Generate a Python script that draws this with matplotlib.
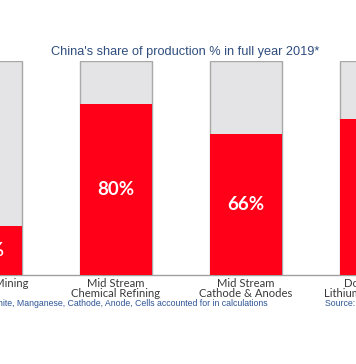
import matplotlib
matplotlib.use("Agg")
import matplotlib.pyplot as plt
import matplotlib.transforms as mtransforms

categories = ["Upstream Mining", "Mid Stream\nChemical Refining",
              "Mid Stream\nCathode & Anodes", "Downstream\nLithium Ion Batteries"]
china_share = [23, 80, 66, 73]
total = [100, 100, 100, 100]
value_labels = ["23%", "80%", "66%", "73%"]
title = "China's share of production % in full year 2019*"
footnote = "*Lithium, Cobalt, Nickel, Graphite, Manganese, Cathode, Anode, Cells accounted for in calculations"
source = "Source: Benchmark Mineral Intelligence"

W, H = 356, 364
fig = plt.figure(figsize=(W / 100, H / 100), dpi=100)
fig.patch.set_facecolor("white")

# axes: bars bottom at y=275px, top at y=61px (from top)
ax = fig.add_axes([0, (H - 275) / H, 1, 214 / H])
ax.set_facecolor("none")
xs = list(range(len(categories)))
bw = 72 / 130
ax.bar(xs, total, width=bw, color="#E4E4E6", edgecolor="#A8A8A8", linewidth=1.0, zorder=2)
ax.bar(xs, china_share, width=bw, color="#FF0018", edgecolor="none", linewidth=0, zorder=3)
ax.set_xlim(1 + (0 - 116) / 130, 1 + (356 - 116) / 130)
ax.set_ylim(0, 100)
for s in ["top", "left", "right"]:
    ax.spines[s].set_visible(False)
ax.spines["bottom"].set_color("#A0A0A0")
ax.spines["bottom"].set_linewidth(1.0)
ax.set_xticks([])
ax.set_yticks([])

for x, v, lab in zip(xs, china_share, value_labels):
    ax.text(x, v / 2, lab, ha="center", va="center", color="white",
            fontsize=13.5, fontweight="bold", family="Lato", zorder=4)

trans = mtransforms.blended_transform_factory(ax.transData, ax.transAxes)
off = mtransforms.offset_copy(trans, fig=fig, x=0, y=-2, units="points")
for x, c in zip(xs, categories):
    ax.text(x, 0, c, transform=off, ha="center", va="top", fontsize=8.1,
            color="#3A3A3A", family="Lato", linespacing=0.95, clip_on=False)

fig.text(185 / W, 1 - 52 / H, title, ha="center", va="center", fontsize=9.2,
         color="#2F4D7E", family="Liberation Sans")
fig.text(268 / W, 1 - 304 / H, footnote, ha="right", va="center", fontsize=6.35,
         color="#2E5597", family="Liberation Sans")
fig.text(325 / W, 1 - 304 / H, source, ha="left", va="center", fontsize=6.35,
         color="#2E5597", family="Liberation Sans")

fig.savefig("out.png", dpi=100, facecolor="white")
